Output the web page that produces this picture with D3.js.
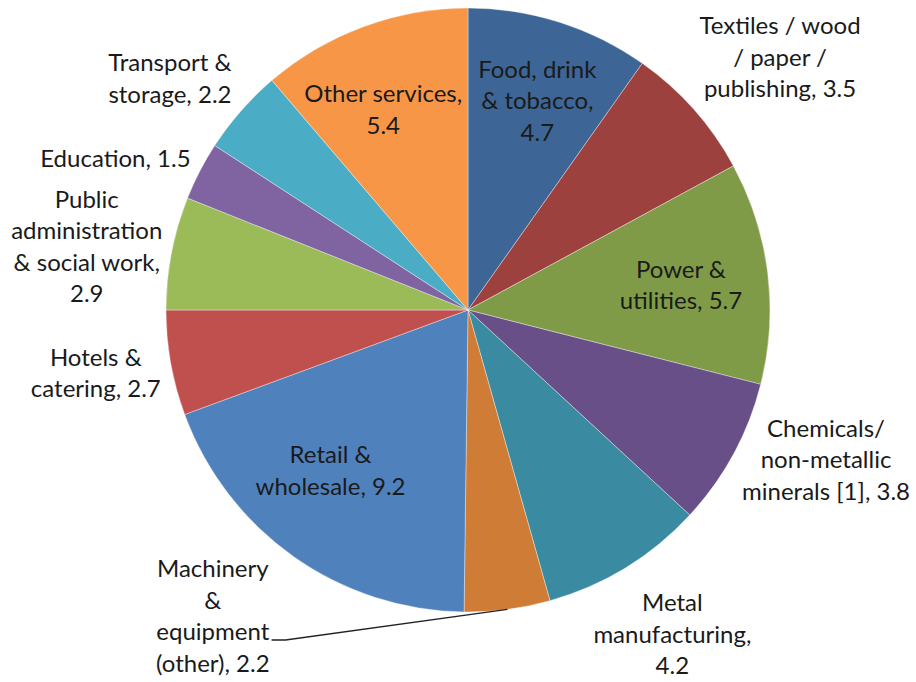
<!DOCTYPE html>
<html>
<head>
<meta charset="utf-8">
<script src="https://cdn.jsdelivr.net/npm/d3@7"></script>
<style>
  body { margin: 0; background: #fff; }
  text { font-family: Lato, "Open Sans", sans-serif; font-size: 24px; fill: #1a1a1a; }
</style>
</head>
<body>
<svg id="chart" width="916" height="682"></svg>
<script>
// sectors, clockwise from 12 o'clock
const categories = [
    "Food, drink & tobacco", "Textiles / wood / paper / publishing", "Power & utilities",
    "Chemicals/ non-metallic minerals [1]", "Metal manufacturing", "Machinery & equipment (other)",
    "Retail & wholesale", "Hotels & catering", "Public administration & social work",
    "Education", "Transport & storage", "Other services"
];
const values = [4.7, 3.5, 5.7, 3.8, 4.2, 2.2, 9.2, 2.7, 2.9, 1.5, 2.2, 5.4];

// label text as it is wrapped in the picture
const labelLines = [
    ["Food, drink", "& tobacco,", "4.7"],
    ["Textiles / wood", "/ paper /", "publishing, 3.5"],
    ["Power &", "utilities, 5.7"],
    ["Chemicals/", "non-metallic", "minerals [1], 3.8"],
    ["Metal", "manufacturing,", "4.2"],
    ["Machinery", "&", "equipment", "(other), 2.2"],
    ["Retail &", "wholesale, 9.2"],
    ["Hotels &", "catering, 2.7"],
    ["Public", "administration", "& social work,", "2.9"],
    ["Education, 1.5"],
    ["Transport &", "storage, 2.2"],
    ["Other services,", "5.4"]
];

// excel 2007 palette, darker shades for the first six points
const colors = [
    "#3d6697", "#9d413e", "#7f9b48", "#694f88", "#3a8ba1", "#cf7c37",
    "#4f81bd", "#c0504d", "#9bbb59", "#8064a2", "#4bacc6", "#f79646"
];

const CX = 468, CY = 310, R = 302;
const LINE_H = 31.5;

// where each label sits: radius factor + angle nudge (deg) from the slice middle
const labelPos = [
    [0.73, 0.7], [1.33, 2.6], [0.71, 0.4], [1.285, -5.8], [1.27, -0.7], [1.32, 47.3],
    [0.70, 5.3], [1.25, 0.5], [1.28, -1.4], [1.27, -4.2], [1.25, -3.4], [0.72, -2.7]
];
const LEADER = 5;         // machinery label has a leader line

const svg = d3.select("#chart");
const g = svg.append("g").attr("transform", "translate(" + CX + "," + CY + ")");

const pie = d3.pie().sort(null).value(d => d)(values);
const arc = d3.arc().innerRadius(0).outerRadius(R);

g.selectAll("path.slice")
    .data(pie)
    .join("path")
    .attr("class", "slice")
    .attr("d", arc)
    .attr("fill", (d, i) => colors[i])
    .attr("stroke", "rgba(255,255,255,0.45)")
    .attr("stroke-width", 0.8);

function polar(a, r) {
    return [r * Math.sin(a), -r * Math.cos(a)];
}

pie.forEach(function(d, i) {
    const mid = (d.startAngle + d.endAngle) / 2;
    const p = labelPos[i];
    const c = polar(mid + p[1] * Math.PI / 180, R * p[0]);
    const lines = labelLines[i];
    const n = lines.length;

    const t = g.append("text").attr("class", "lbl");
    lines.forEach(function(s, j) {
        t.append("tspan")
            .attr("x", c[0])
            .attr("y", c[1] + (j - (n - 1) / 2) * LINE_H)
            .attr("dy", "0.35em")
            .attr("text-anchor", "middle")
            .text(s);
    });

    if (i === LEADER) {
        let maxW = 0;
        t.selectAll("tspan").each(function() {
            maxW = Math.max(maxW, this.getComputedTextLength());
        });
        // from the rim of the slice to just right of the "equipment" line
        const rim = polar(mid, R);
        const ly = c[1] + (2 - (n - 1) / 2) * LINE_H + 8;
        const lx = c[0] + maxW / 2 + 2;
        g.append("path")
            .attr("d", d3.line()([rim, [lx + 14, ly], [lx, ly]]))
            .attr("fill", "none")
            .attr("stroke", "#222")
            .attr("stroke-width", 1.4);
    }
});
</script>
</body>
</html>
